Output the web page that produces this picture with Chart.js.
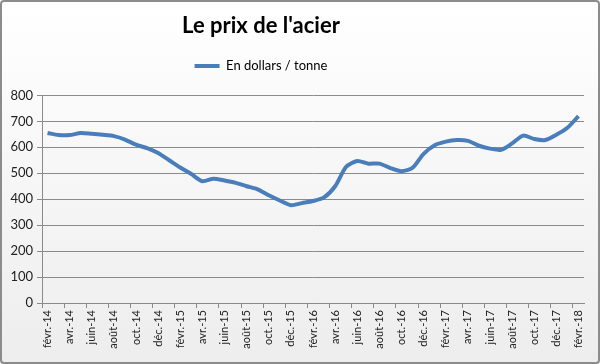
<!DOCTYPE html>
<html>
<head>
<meta charset="utf-8">
<script src="https://cdn.jsdelivr.net/npm/chart.js@4"></script>
<style>
  html, body { margin: 0; padding: 0; background: #fff; }
  #wrap { width: 600px; height: 364px; }
</style>
</head>
<body>
<div id="wrap"><canvas id="chartAcier" width="600" height="364"></canvas></div>
<script>
// months, fevr.-14 to fevr.-18
const months = [
  'févr.-14', 'mars-14', 'avr.-14', 'mai-14', 'juin-14', 'juil.-14', 'août-14', 'sept.-14', 'oct.-14', 'nov.-14', 'déc.-14', 'janv.-15',
  'févr.-15', 'mars-15', 'avr.-15', 'mai-15', 'juin-15', 'juil.-15', 'août-15', 'sept.-15', 'oct.-15', 'nov.-15', 'déc.-15', 'janv.-16',
  'févr.-16', 'mars-16', 'avr.-16', 'mai-16', 'juin-16', 'juil.-16', 'août-16', 'sept.-16', 'oct.-16', 'nov.-16', 'déc.-16', 'janv.-17',
  'févr.-17', 'mars-17', 'avr.-17', 'mai-17', 'juin-17', 'juil.-17', 'août-17', 'sept.-17', 'oct.-17', 'nov.-17', 'déc.-17', 'janv.-18',
  'févr.-18'
];

// prix en dollars / tonne
const prix = [
  655, 647, 647, 655, 652, 648, 643, 630, 610, 597, 578, 550,
  522, 497, 469, 479, 472, 463, 450, 438, 415, 395, 377, 385,
  393, 407, 450, 525, 547, 537, 537, 520, 508, 521, 575, 608,
  622, 628, 625, 606, 595, 590, 615, 645, 632, 628, 648, 675,
  720
];

const yTicks = [0, 100, 200, 300, 400, 500, 600, 700, 800];

const gridGrey = '#8a8a8a';

// background gradient + border, and title/legend nudged like excel places them
const frame = {
  id: 'frame',
  afterLayout(chart) {
    const dx = -31, dy = -13;
    for (const box of [chart.titleBlock, chart.legend]) {
      if (!box) continue;
      box.left += dx; box.right += dx;
      box.top += dy; box.bottom += dy;
    }
  },
  beforeDraw(chart) {
    const ctx = chart.ctx;
    const g = ctx.createLinearGradient(0, 0, 0, chart.height);
    g.addColorStop(0, '#ffffff');
    g.addColorStop(1, '#ededed');
    ctx.save();
    ctx.fillStyle = g;
    ctx.fillRect(0, 0, chart.width, chart.height);
    ctx.restore();
  },
  afterDraw(chart) {
    const ctx = chart.ctx;
    ctx.save();
    ctx.strokeStyle = '#8c8c8c';
    ctx.lineWidth = 2;
    ctx.beginPath();
    ctx.roundRect(1, 1, chart.width - 2, chart.height - 2, 3);
    ctx.stroke();
    ctx.restore();
  }
};

const config = {
  type: 'line',
  data: {
    labels: months,
    datasets: [{
      label: 'En dollars / tonne',
      data: prix,
      borderColor: '#4a7ebb',
      backgroundColor: '#4a7ebb',
      borderWidth: 4,
      pointRadius: 0,
      pointStyle: 'line',
      tension: 0.25
    }]
  },
  options: {
    responsive: false,
    animation: false,
    layout: { padding: { left: 0, right: 16, top: 13, bottom: 0 } },
    plugins: {
      title: {
        display: true,
        text: "Le prix de l'acier",
        color: '#000',
        font: { family: 'Lato', size: 22, weight: 'bold' },
        padding: { top: 13, bottom: 0 }
      },
      legend: {
        display: true,
        labels: {
          usePointStyle: true,
          pointStyleWidth: 25,
          boxHeight: 4,
          color: '#000',
          font: { family: 'Lato', size: 13 },
          padding: 20
        }
      },
      tooltip: { enabled: false }
    },
    scales: {
      x: {
        type: 'category',
        offset: true,
        grid: {
          offset: true,
          drawOnChartArea: false,
          tickLength: 5,
          color: ctx => (ctx.index % 2 === 0 ? gridGrey : 'rgba(0,0,0,0)')
        },
        border: { color: gridGrey, width: 1 },
        ticks: {
          autoSkip: false,
          maxRotation: 90,
          minRotation: 90,
          padding: 2,
          color: '#222',
          font: { family: 'Lato', size: 11 },
          callback: function (v, i) { return i % 2 === 0 ? this.getLabelForValue(v) : ''; }
        },
        afterFit: s => { s.height = 61; }
      },
      y: {
        min: 0,
        max: 800,
        afterBuildTicks: s => { s.ticks = yTicks.map(v => ({ value: v })); },
        grid: { color: gridGrey, tickLength: 5 },
        border: { color: gridGrey, width: 1 },
        ticks: {
          padding: 4,
          color: '#222',
          font: { family: 'Lato', size: 13 }
        },
        afterFit: s => { s.width = 42; }
      }
    }
  },
  plugins: [frame]
};

const myChart = new Chart(document.getElementById('chartAcier'), config);
</script>
</body>
</html>
